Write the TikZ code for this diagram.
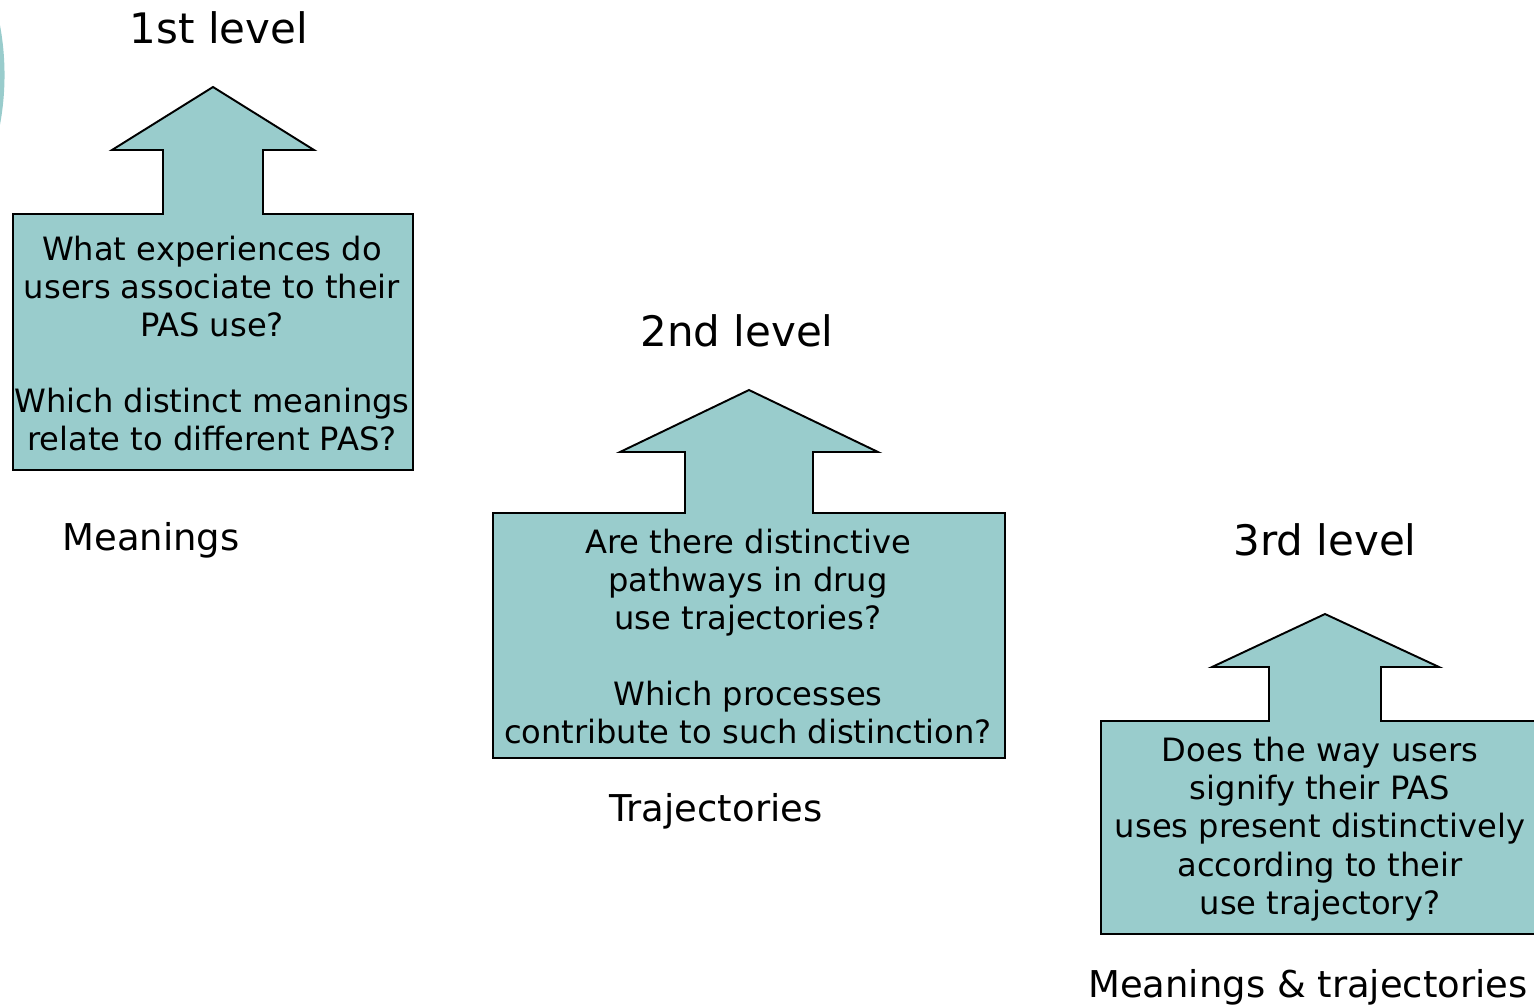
\documentclass[tikz,border=0pt]{standalone}
\usepackage{fontspec}
\setmainfont{DejaVu Sans}
\definecolor{teal1}{HTML}{99CCCC}
\begin{document}
\begin{tikzpicture}[x=0.75pt,y=-0.75pt,
  arrowbox/.style={draw=black,fill=teal1,line width=1.45pt,line join=miter},
  body/.style={align=center,font=\fontsize{24.1pt}{28.6pt}\selectfont,inner sep=0pt},
  title/.style={font=\fontsize{31.5pt}{36pt}\selectfont,inner sep=0pt},
  lbl/.style={font=\fontsize{27.7pt}{32pt}\selectfont,inner sep=0pt}]
\useasboundingbox (0,0) rectangle (1534,1004);
\clip (0,0) rectangle (1534,1004);
% partial ring at top-left
\draw[teal1,line width=3.8pt] (-268,75) circle (270);
% level 1
\draw[arrowbox] (13,214) -- (163,214) -- (163,150) -- (112,150) -- (213,87) -- (314,150) -- (263,150) -- (263,214) -- (413,214) -- (413,470) -- (13,470) -- cycle;
\node[body] (q1) at (212,343.5) {What experiences do\\users associate to their\\PAS use?\\[28.6pt]Which distinct meanings\\relate to different PAS?};
\node[title] (t1) at (219,28) {1st level};
\node[lbl] (l1) at (151,540) {Meanings};
% level 2
\draw[arrowbox] (493,513) -- (685,513) -- (685,452) -- (620,452) -- (749,390) -- (878,452) -- (813,452) -- (813,513) -- (1005,513) -- (1005,758) -- (493,758) -- cycle;
\node[body] (q2) at (748,636.5) {Are there distinctive\\pathways in drug\\use trajectories?\\[28.6pt]Which processes\\contribute to such distinction?};
\node[title] (t2) at (737,331) {2nd level};
\node[lbl] (l2) at (716,811) {Trajectories};
% level 3
\draw[arrowbox] (1101,721) -- (1269,721) -- (1269,667) -- (1212,667) -- (1325,614) -- (1439,667) -- (1381,667) -- (1381,721) -- (1549,721) -- (1549,934) -- (1101,934) -- cycle;
\node[body] (q3) at (1320,829) {Does the way users\\signify their PAS\\uses present distinctively\\according to their\\use trajectory?};
\node[title] (t3) at (1325,540) {3rd level};
\node[lbl] (l3) at (1308,987) {Meanings \& trajectories};
\end{tikzpicture}
\end{document}
